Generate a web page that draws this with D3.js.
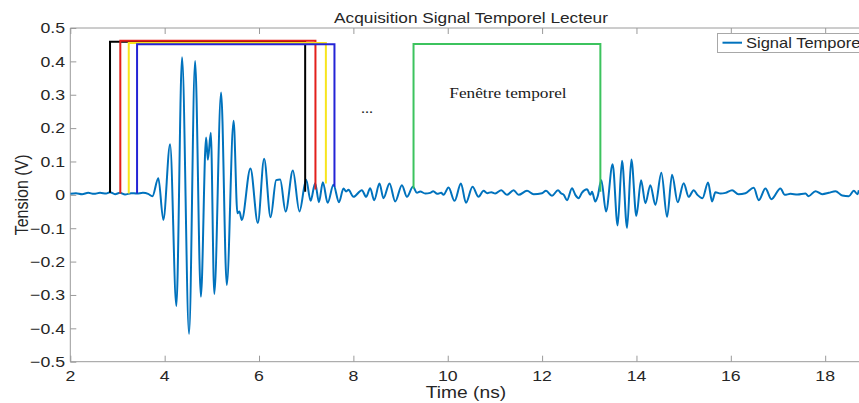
<!DOCTYPE html>
<html>
<head>
<meta charset="utf-8">
<script src="https://cdn.jsdelivr.net/npm/d3@7/dist/d3.min.js"></script>
<style>
    body { margin: 0; background: #fff; }
    svg { display: block; }
</style>
</head>
<body>
<div class="chart"></div>
<script>
// signal (time in ns, tension in V)
let timeNs = [
    2.00, 2.12, 2.25, 2.38, 2.50, 2.63, 2.76, 2.84, 2.95, 3.05, 3.16, 3.29, 3.41, 3.54, 3.65, 3.74,
    3.866, 3.972, 4.115, 4.248, 4.369, 4.517, 4.645, 4.768, 4.878, 4.916, 4.978, 5.052, 5.196, 5.317,
    5.461, 5.542, 5.584, 5.635, 5.818, 5.975, 6.108, 6.246, 6.363, 6.448, 6.564, 6.717, 6.857, 6.999,
    7.094, 7.19, 7.27, 7.353, 7.455, 7.578, 7.695, 7.79, 7.847, 7.896, 8.002, 8.18, 8.271, 8.356,
    8.441, 8.553, 8.638, 8.766, 8.887, 9.029, 9.135, 9.262, 9.347, 9.417, 9.523, 9.629, 9.693, 9.777,
    9.862, 9.911, 10.017, 10.144, 10.28, 10.386, 10.526, 10.653, 10.759, 10.838, 10.923, 11.007, 11.135,
    11.256, 11.396, 11.502, 11.68, 11.82, 11.998, 12.083, 12.21, 12.337, 12.40, 12.46, 12.528, 12.634,
    12.704, 12.774, 12.846, 12.952, 13.022, 13.058, 13.128, 13.177, 13.255, 13.355, 13.495, 13.601,
    13.694, 13.801, 13.892, 13.998, 14.098, 14.189, 14.295, 14.401, 14.528, 14.649, 14.755, 14.874,
    15.001, 15.107, 15.213, 15.292, 15.40, 15.518, 15.603, 15.673, 15.78, 15.886, 16.027, 16.161, 16.31,
    16.486, 16.592, 16.734, 16.861, 17.052, 17.143, 17.264, 17.413, 17.583, 17.647, 17.795, 17.937,
    18.077, 18.219, 18.361, 18.501, 18.607, 18.685, 18.713
];
let tensionV = [
    0.003, 0.005, 0.002, 0.006, 0.003, 0.006, 0.004, 0.008, 0.002, 0.006, 0.001, 0.005, 0.004, 0.006, 0.003, -0.004,
    0.05, -0.075, 0.152, -0.333, 0.412, -0.417, 0.401, -0.305, 0.172, 0.105, 0.186, -0.297, 0.307, -0.27,
    0.222, -0.055, -0.05, -0.075, 0.079, -0.084, 0.108, -0.067, 0.044, 0.046, -0.05, 0.073, -0.05, 0.045,
    -0.018, 0.035, -0.022, 0.038, -0.024, 0.03, -0.022, 0.019, 0.01, 0.015, -0.006, 0.014, -0.006, 0.02,
    -0.016, 0.034, -0.01, 0.034, -0.02, 0.029, -0.006, 0.024, 0.006, 0.01, 0.004, 0.006, 0.011, 0.003,
    0.006, 0.0, 0.022, -0.018, 0.034, -0.024, 0.024, -0.006, 0.012, 0.005, 0.008, 0.004, 0.014,
    0.0, 0.014, 0.0, 0.012, 0.002, 0.005, 0.012, -0.003, 0.014, 0.005, 0.0, -0.016, 0.02,
    0.0, -0.01, 0.007, 0.017, 0.0, 0.009, -0.02, -0.005, 0.044, -0.05, 0.092, -0.092,
    0.102, -0.099, 0.106, -0.063, 0.044, -0.025, 0.029, -0.03, 0.066, -0.066, 0.06, -0.022,
    0.035, -0.006, 0.014, 0.0, -0.01, 0.037, -0.02, 0.008, 0.004, 0.006, 0.014, 0.002, 0.005,
    0.021, -0.016, 0.019, -0.013, 0.019, 0.0, 0.003, 0.001, 0.004, -0.004, 0.011, 0.002,
    0.006, 0.011, -0.002, -0.004, 0.012, 0.002, 0.014
];

// the time windows drawn over the signal
let windowColors = ["#000000", "#e3201c", "#f7e51d", "#2424d6", "#3cc35e"];
let windowStart = [2.842, 3.06, 3.239, 3.415, 9.275];
let windowEnd = [6.978, 7.196, 7.417, 7.599, 13.235];
let windowTop = [0.459, 0.462, 0.455, 0.451, 0.452];
let windowFootLeft = [0.006, 0.004, 0.004, 0.004, 0.019];
let windowFootRight = [0.009, 0.016, 0.034, 0.024, 0.009];

let xTicks = [2, 4, 6, 8, 10, 12, 14, 16, 18];
let yTicks = [-0.5, -0.4, -0.3, -0.2, -0.1, 0, 0.1, 0.2, 0.3, 0.4, 0.5];

let chartTitle = "Acquisition Signal Temporel Lecteur";
let xLabel = "Time (ns)";
let yLabel = "Tension (V)";
let legendLabel = "Signal Temporel";
let windowLabel = "Fenêtre temporel";

class SignalChart
{
    constructor()
    {
        this.width = 859;
        this.height = 403;
        this.left = 70.3;
        this.top = 28;
        this.bottom = 361.7;
        this.stretch = 1.15;   // the picture is a bit wider than tall

        this.xScale = d3.scaleLinear()
                        .domain([2, 19])
                        .range([this.left, this.left + 17 * 47.18]);
        this.yScale = d3.scaleLinear()
                        .domain([-0.5, 0.5])
                        .range([this.bottom, this.top]);

        this.svg = d3.select(".chart")
                     .append("svg")
                     .attr("width", this.width)
                     .attr("height", this.height);
    }

    // text a little wider than the font, like the photo
    addText(x, y, str, size, anchor, family, sx)
    {
        return this.svg.append("text")
                   .attr("transform", "translate(" + x + "," + y + ") scale(" + (sx || this.stretch) + ",1)")
                   .attr("text-anchor", anchor)
                   .style("font-family", family || "'Liberation Sans', Arial, sans-serif")
                   .style("font-size", size + "px")
                   .style("fill", "#262626")
                   .text(str);
    }

    drawAxes()
    {
        let that = this;
        let xs = this.xScale, ys = this.yScale;
        let right = xs.range()[1];
        let axisColor = "#9a9a9a";

        let frame = this.svg.append("g");
        frame.append("line").attr("x1", this.left).attr("x2", this.left)
             .attr("y1", this.top).attr("y2", this.bottom);
        frame.append("line").attr("x1", this.left).attr("x2", right)
             .attr("y1", this.bottom).attr("y2", this.bottom);
        frame.append("line").attr("x1", this.left).attr("x2", right)
             .attr("y1", this.top).attr("y2", this.top);
        frame.selectAll("line").attr("stroke", axisColor).attr("stroke-width", 1);

        // inward ticks on bottom, top and left
        let bottomAxis = d3.axisTop(xs).tickValues(xTicks).tickSize(6).tickFormat("");
        let topAxis = d3.axisBottom(xs).tickValues(xTicks).tickSize(6).tickFormat("");
        let leftAxis = d3.axisRight(ys).tickValues(yTicks).tickSize(6).tickFormat("");

        [[bottomAxis, "translate(0," + this.bottom + ")"],
         [topAxis, "translate(0," + this.top + ")"],
         [leftAxis, "translate(" + this.left + ",0)"]].forEach(function(a) {
            let g = that.svg.append("g").attr("transform", a[1]).call(a[0]);
            g.select(".domain").remove();
            g.selectAll("line").attr("stroke", axisColor);
        });

        xTicks.forEach(function(t) {
            that.addText(xs(t), 380.5, t, 15, "middle", null, 1.18);
        });
        yTicks.forEach(function(t) {
            that.addText(65, ys(t) + 5.3, d3.format("")(Math.round(t * 10) / 10), 15, "end", null, 1.18);
        });

        this.addText(466, 397.5, xLabel, 16, "middle", null, 1.2);
        this.addText(471, 22.5, chartTitle, 15, "middle");

        this.svg.append("text")
            .attr("transform", "translate(27.5," + ys(0) + ") scale(" + this.stretch + ",1) rotate(-90)")
            .attr("text-anchor", "middle")
            .style("font-family", "'Liberation Sans', Arial, sans-serif")
            .style("font-size", "16px")
            .style("fill", "#262626")
            .text(yLabel);
    }

    drawSignal()
    {
        let xs = this.xScale, ys = this.yScale;
        let points = timeNs.map((t, i) => [t, tensionV[i]]);

        this.svg.append("clipPath")
            .attr("id", "plotClip")
            .append("rect")
            .attr("x", this.left)
            .attr("y", this.top)
            .attr("width", xs.range()[1] - this.left)
            .attr("height", this.bottom - this.top);

        let line = d3.line()
                     .x(d => xs(d[0]))
                     .y(d => ys(d[1]))
                     .curve(d3.curveMonotoneX);

        this.svg.append("path")
            .datum(points)
            .attr("clip-path", "url(#plotClip)")
            .attr("d", line)
            .attr("fill", "none")
            .attr("stroke", "#0072bd")
            .attr("stroke-width", 2)
            .attr("stroke-linejoin", "round");
    }

    drawWindows()
    {
        let xs = this.xScale, ys = this.yScale;
        let g = this.svg.append("g");

        g.selectAll("path")
         .data(windowColors)
         .enter()
         .append("path")
         .attr("d", function(c, i) {
            return "M" + xs(windowStart[i]) + "," + ys(windowFootLeft[i]) +
                   "V" + ys(windowTop[i]) +
                   "H" + xs(windowEnd[i]) +
                   "V" + ys(windowFootRight[i]);
         })
         .attr("fill", "none")
         .attr("stroke", c => c)
         .attr("stroke-width", 2);

        this.addText(508, 97.5, windowLabel, 15, "middle", "'Liberation Serif', 'Times New Roman', serif")
            .style("fill", "#1a1a1a");
        this.addText(367, 113, "...", 14, "middle", "'Liberation Serif', 'Times New Roman', serif")
            .style("fill", "#1a1a1a");
    }

    drawLegend()
    {
        let g = this.svg.append("g");
        g.append("rect")
         .attr("x", 717.5)
         .attr("y", 33.5)
         .attr("width", 170)
         .attr("height", 19)
         .attr("fill", "#fff")
         .attr("stroke", "#a8a8a8")
         .attr("stroke-width", 1);
        g.append("line")
         .attr("x1", 722.5).attr("x2", 742)
         .attr("y1", 42.7).attr("y2", 42.7)
         .attr("stroke", "#0072bd")
         .attr("stroke-width", 2);
        this.addText(746, 48.3, legendLabel, 14, "start", null, 1.18);
    }

    draw()
    {
        this.drawAxes();
        this.drawSignal();
        this.drawWindows();
        this.drawLegend();
    }
}

let chart = new SignalChart();
chart.draw();
</script>
</body>
</html>
